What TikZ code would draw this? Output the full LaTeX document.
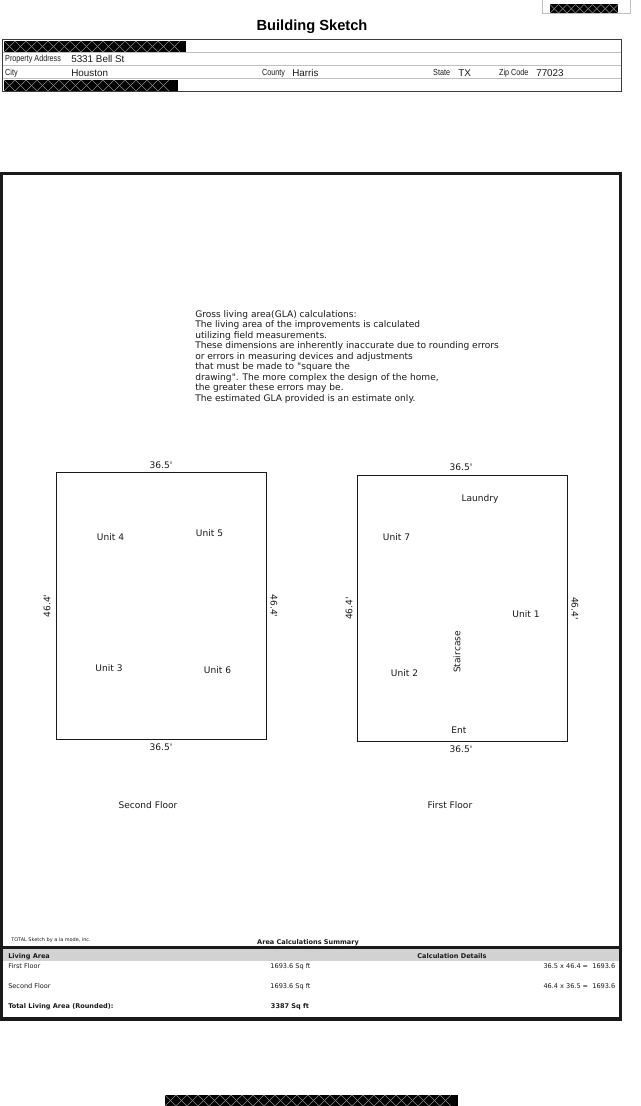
\documentclass[tikz,border=0pt]{standalone}
\usepackage{fontspec}
\setmainfont{DejaVu Sans}
\newfontfamily\arialn{Liberation Sans}
\definecolor{ink}{HTML}{1A1A1A}
\definecolor{hdr}{HTML}{D2D2D2}
\definecolor{xline}{HTML}{8A8A8A}
\newcommand{\redactbar}[4]{%
  \fill[black] (#1,#2) rectangle (#3,#4);
  \pgfmathsetmacro{\rw}{(#4-#2)}
  \pgfmathtruncatemacro{\rn}{(#3-#1)/\rw-1}
  \begin{scope}
  \clip (#1,#2) rectangle (#3,#4);
  \foreach \i in {0,...,\rn}{
    \draw[xline,line width=.45pt] ({#1+\i*\rw},#2) -- ({#1+(\i+1)*\rw},#4);
    \draw[xline,line width=.45pt] ({#1+\i*\rw},#4) -- ({#1+(\i+1)*\rw},#2);
  }
  \end{scope}}
\newcommand{\ft}{\textquotesingle}
\tikzset{
  x=0.75pt,y=-0.75pt,
  lbl/.style={inner sep=0pt,anchor=base west,text=ink,font=\fontsize{6.8}{8}\selectfont},
  cen/.style={inner sep=0pt,anchor=center,text=ink,font=\fontsize{6.8}{8}\selectfont},
  form/.style={inner sep=0pt,anchor=base west,text=ink,font=\arialn\fontsize{7}{8}\selectfont},
  formlab/.style={form,font=\arialn\fontsize{6.6}{8}\selectfont,xscale=.82},
  val/.style={form,font=\arialn\fontsize{7.4}{8}\selectfont},
  sm/.style={inner sep=0pt,anchor=base west,text=ink,font=\fontsize{4.9}{6}\selectfont},
  smb/.style={sm,font=\bfseries\fontsize{4.9}{6}\selectfont},
  plan/.style={draw=ink,line width=.95pt},
}
\begin{document}
\begin{tikzpicture}
\useasboundingbox (0,0) rectangle (640,1106);
\fill[white] (0,0) rectangle (640,1106);
% top right
\draw[lightgray,line width=.5pt] (542.5,-1) -- (542.5,13) -- (630,13) -- (630,-1);
\redactbar{550}{4.5}{618}{13}
% title
\node[inner sep=0pt,text=black,font=\arialn\bfseries\fontsize{11}{12}\selectfont] (title) at (312,27) {Building Sketch};
% header
\draw[line width=.45pt,lightgray] (3,52) -- (621,52) (3,65) -- (621,65) (3,78) -- (621,78);
\draw[line width=.7pt,ink!85] (2.5,39) rectangle (621,91);
\redactbar{4}{41}{186}{52}
\redactbar{4}{80}{178}{91}
\node[formlab] (pa) at (5,62) {Property Address};
\node[val] (addr) at (71,63) {5331 Bell St};
\node[formlab] (city) at (5,75) {City};
\node[val] (houston) at (71,76) {Houston};
\node[formlab] (county) at (262,75) {County};
\node[val] (harris) at (292,76) {Harris};
\node[formlab] (state) at (433,75) {State};
\node[val] (tx) at (458,76) {TX};
\node[formlab] (zip) at (499,75) {Zip Code};
\node[val] (zipv) at (536,76) {77023};
% main frame
\draw[line width=2.4pt,ink] (1.5,173.5) rectangle (620.5,1019);
\draw[line width=2.4pt,ink] (1.5,947.5) -- (620.5,947.5);
% note
\node[lbl] (n1) at (195,317) {Gross living area(GLA) calculations:};
\node[lbl] (n2) at (195,327.5) {The living area of the improvements is calculated};
\node[lbl] (n3) at (195,338) {utilizing field measurements.};
\node[lbl] (n4) at (195,348.5) {These dimensions are inherently inaccurate due to rounding errors};
\node[lbl] (n5) at (195,359) {or errors in measuring devices and adjustments};
\node[lbl] (n6) at (195,369.5) {that must be made to \textquotedbl square the};
\node[lbl] (n7) at (195,380) {drawing\textquotedbl . The more complex the design of the home,};
\node[lbl] (n8) at (195,390.5) {the greater these errors may be.};
\node[lbl] (n9) at (195,401.5) {The estimated GLA provided is an estimate only.};
% second floor
\draw[plan] (56.5,472.5) rectangle (266.5,739.5);
\node[cen] (a1) at (161,465) {36.5\ft};
\node[cen] (a2) at (161,747) {36.5\ft};
\node[cen,rotate=90] (a3) at (47,606) {46.4\ft};
\node[cen,rotate=-90] (a4) at (274,606) {46.4\ft};
\node[cen] (u4) at (110.5,537) {Unit 4};
\node[cen] (u5) at (209.5,533) {Unit 5};
\node[cen] (u3) at (109,668) {Unit 3};
\node[cen] (u6) at (217.5,670) {Unit 6};
\node[cen] (sf) at (148,805) {Second Floor};
% first floor
\draw[plan] (357.5,475.5) rectangle (567.5,741.5);
\node[cen] (b1) at (461,467.5) {36.5\ft};
\node[cen] (b2) at (461,749.5) {36.5\ft};
\node[cen,rotate=90] (b3) at (349,608.5) {46.4\ft};
\node[cen,rotate=-90] (b4) at (575,608.5) {46.4\ft};
\node[cen] (l) at (480,499) {Laundry};
\node[cen] (u7) at (396.5,537) {Unit 7};
\node[cen] (u1) at (526,614) {Unit 1};
\node[cen] (u2) at (404.5,673) {Unit 2};
\node[cen,rotate=90] (st) at (457,652) {Staircase};
\node[cen] (ent) at (459,730) {Ent};
\node[cen] (ff) at (450,805) {First Floor};
% summary
\node[sm,font=\fontsize{3.7}{5}\selectfont] (total) at (11,941.5) {TOTAL Sketch by a la mode, inc.};
\node[smb,anchor=base] (acs) at (308,944) {Area Calculations Summary};
\fill[hdr] (3,949) rectangle (619,961);
\node[smb] (la) at (8,958.5) {Living Area};
\node[smb,anchor=base] (cd) at (452,958.5) {Calculation Details};
\node[sm] (f1) at (8,968.5) {First Floor};
\node[sm,anchor=base] (f2) at (290.5,968.5) {1693.6 Sq ft};
\node[sm,anchor=base east] (f3) at (615.5,968.5) {36.5 x 46.4 =\ \ 1693.6};
\node[sm] (s1) at (8,988.5) {Second Floor};
\node[sm,anchor=base] (s2) at (290.5,988.5) {1693.6 Sq ft};
\node[sm,anchor=base east] (s3) at (615.5,988.5) {46.4 x 36.5 =\ \ 1693.6};
\node[smb] (t1) at (8,1008.5) {Total Living Area (Rounded):};
\node[smb,anchor=base] (t2) at (290,1008.5) {3387 Sq ft};
% bottom
\redactbar{165}{1095}{458}{1106}
\end{tikzpicture}
\end{document}
